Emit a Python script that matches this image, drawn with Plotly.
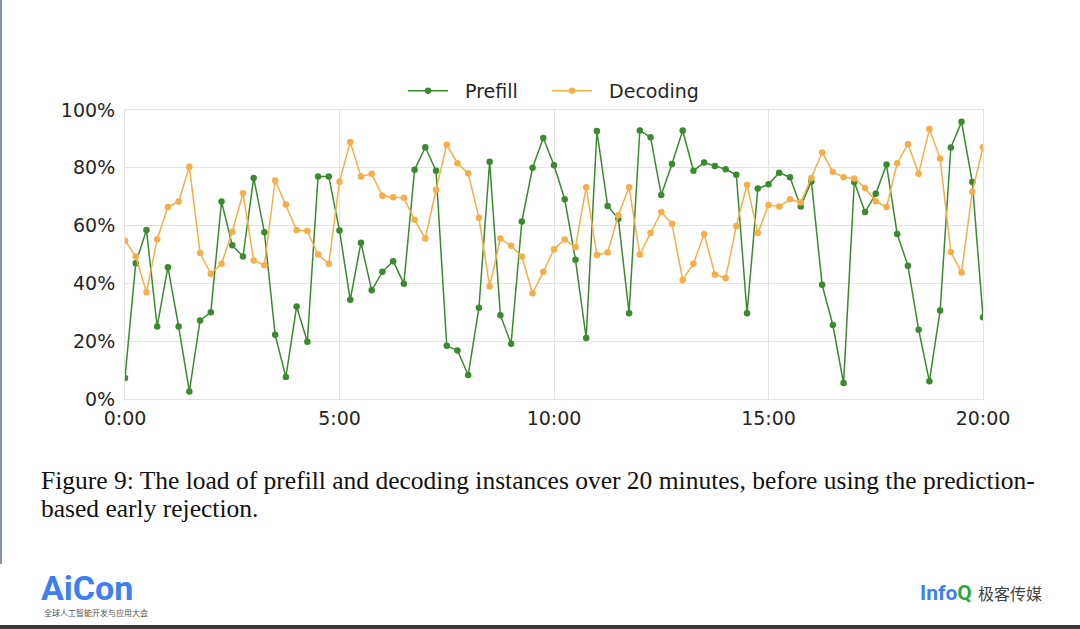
import plotly.graph_objects as go

minutes = [i * 0.25 for i in range(81)]

prefill = [7.3, 47.0, 58.5, 25.1, 45.6, 25.1, 2.6, 27.2, 30.0, 68.3,
           53.2, 49.3, 76.5, 57.7, 22.2, 7.6, 32.0, 19.8, 77.0, 77.0,
           58.3, 34.3, 54.1, 37.6, 44.0, 47.7, 39.9, 79.3, 87.1, 79.0,
           18.4, 16.8, 8.3, 31.6, 82.1, 29.0, 19.1, 61.4, 80.0, 90.3,
           80.9, 69.1, 48.2, 21.1, 92.7, 66.8, 62.4, 29.7, 92.9, 90.6,
           70.6, 81.3, 92.9, 79.0, 81.8, 80.6, 79.5, 77.6, 29.7, 72.8,
           74.3, 78.3, 76.7, 66.6, 75.3, 39.5, 25.6, 5.5, 75.1, 64.7,
           71.0, 81.1, 57.1, 46.1, 24.0, 6.1, 30.6, 87.0, 95.9, 75.1,
           28.3]

decoding = [54.8, 49.3, 36.9, 55.3, 66.4, 68.3, 80.4, 50.5, 43.3, 46.8,
            57.9, 71.2, 47.9, 46.3, 75.6, 67.3, 58.5, 58.1, 50.0, 46.8,
            75.2, 88.9, 77.0, 77.9, 70.3, 69.8, 69.6, 62.0, 55.5, 72.4,
            88.0, 81.6, 78.1, 62.7, 38.9, 55.5, 53.0, 49.3, 36.6, 44.0,
            51.8, 55.2, 52.5, 73.3, 49.8, 50.7, 63.6, 73.3, 50.0, 57.4,
            64.7, 60.6, 41.2, 46.8, 57.1, 43.1, 41.9, 59.9, 74.1, 57.4,
            67.1, 66.6, 69.1, 68.0, 76.5, 85.3, 78.6, 76.7, 76.3, 73.0,
            68.4, 66.4, 81.6, 88.2, 77.9, 93.4, 83.2, 50.9, 43.8, 71.7,
            87.1]

series_names = ["Prefill", "Decoding"]
tick_vals = [0, 5, 10, 15, 20]
tick_text = ["0:00", "5:00", "10:00", "15:00", "20:00"]
y_ticks = [0, 20, 40, 60, 80, 100]
y_text = ["0%", "20%", "40%", "60%", "80%", "100%"]

W, H = 1080, 629
L, R, T, B = 125, 983, 110, 399

def px(x):
    return (x - L) / (R - L)

def py(y):
    return (B - y) / (B - T)

green = "#3a8a30"
orange = "#f5ae48"
nb = "\u00a0"

fig = go.Figure()
fig.add_trace(go.Scatter(x=minutes, y=prefill, mode="lines+markers",
                         name=nb * 2 + series_names[0] + nb * 4,
                         line=dict(color=green, width=1.5),
                         marker=dict(color=green, size=6.5)))
fig.add_trace(go.Scatter(x=minutes, y=decoding, mode="lines+markers",
                         name=nb * 2 + series_names[1],
                         line=dict(color=orange, width=1.5),
                         marker=dict(color=orange, size=6.5)))

fig.update_layout(
    width=W, height=H,
    margin=dict(l=L, r=W - R, t=T, b=H - B, pad=0),
    paper_bgcolor="white", plot_bgcolor="white",
    font=dict(family="DejaVu Sans", size=19, color="#262626"),
    showlegend=True,
    legend=dict(orientation="h", x=px(403), xanchor="left", y=py(91), yanchor="middle",
                font=dict(size=19, color="#262626"), itemwidth=40,
                bgcolor="rgba(0,0,0,0)", tracegroupgap=0),
    xaxis=dict(range=[0, 20], tickvals=tick_vals, ticktext=tick_text,
               showgrid=True, gridcolor="#e3e3e3", gridwidth=1,
               showline=True, linecolor="#e3e3e3", mirror=True, zeroline=False,
               ticks="", ticklabelstandoff=2),
    yaxis=dict(range=[0, 100], tickvals=y_ticks, ticktext=y_text,
               showgrid=True, gridcolor="#e3e3e3", gridwidth=1,
               showline=True, linecolor="#e3e3e3", mirror=True, zeroline=False,
               ticks="", ticklabelstandoff=5),
)

shapes = [
    dict(type="rect", xref="paper", yref="paper", x0=px(0), x1=px(2), y0=py(564), y1=py(0),
         fillcolor="#8a92a4", line=dict(width=0), layer="above"),
    dict(type="rect", xref="paper", yref="paper", x0=px(0), x1=px(1080), y0=py(629), y1=py(625),
         fillcolor="#3a3a3a", line=dict(width=0), layer="above"),
]
fig.update_layout(shapes=shapes)

ann = [
    dict(text="Figure 9: The load of prefill and decoding instances over 20 minutes, before using the prediction-",
         x=px(39), y=py(480), xanchor="left", yanchor="middle"),
    dict(text="based early rejection.", x=px(39), y=py(508), xanchor="left", yanchor="middle"),
]
for a in ann:
    fig.add_annotation(xref="paper", yref="paper", showarrow=False,
                       font=dict(family="Liberation Serif", size=25.5, color="#111111"), **a)

fig.add_annotation(xref="paper", yref="paper", showarrow=False,
                   text="<b>AiCon</b>", x=px(39), y=py(588), xanchor="left", yanchor="middle",
                   font=dict(family="Roboto", size=34, color="#3d7ff2"))
fig.add_annotation(xref="paper", yref="paper", showarrow=False,
                   text="全球人工智能开发与应用大会", x=px(42), y=py(612), xanchor="left", yanchor="middle",
                   font=dict(family="Noto Sans CJK SC", size=8, color="#555555"))
fig.add_annotation(xref="paper", yref="paper", showarrow=False,
                   text="<b><span style='color:#3d7ff2'>Info</span><span style='color:#2fa83a'>Q</span></b>",
                   x=px(918), y=py(593), xanchor="left", yanchor="middle",
                   font=dict(family="Roboto", size=21))
fig.add_annotation(xref="paper", yref="paper", showarrow=False,
                   text="极客传媒", x=px(976), y=py(593), xanchor="left", yanchor="middle",
                   font=dict(family="Noto Sans CJK SC", size=16, color="#444444"))

fig.write_html("out.html", config={"displayModeBar": False},
               post_script="document.body.style.margin='0';document.body.style.overflow='hidden';")
